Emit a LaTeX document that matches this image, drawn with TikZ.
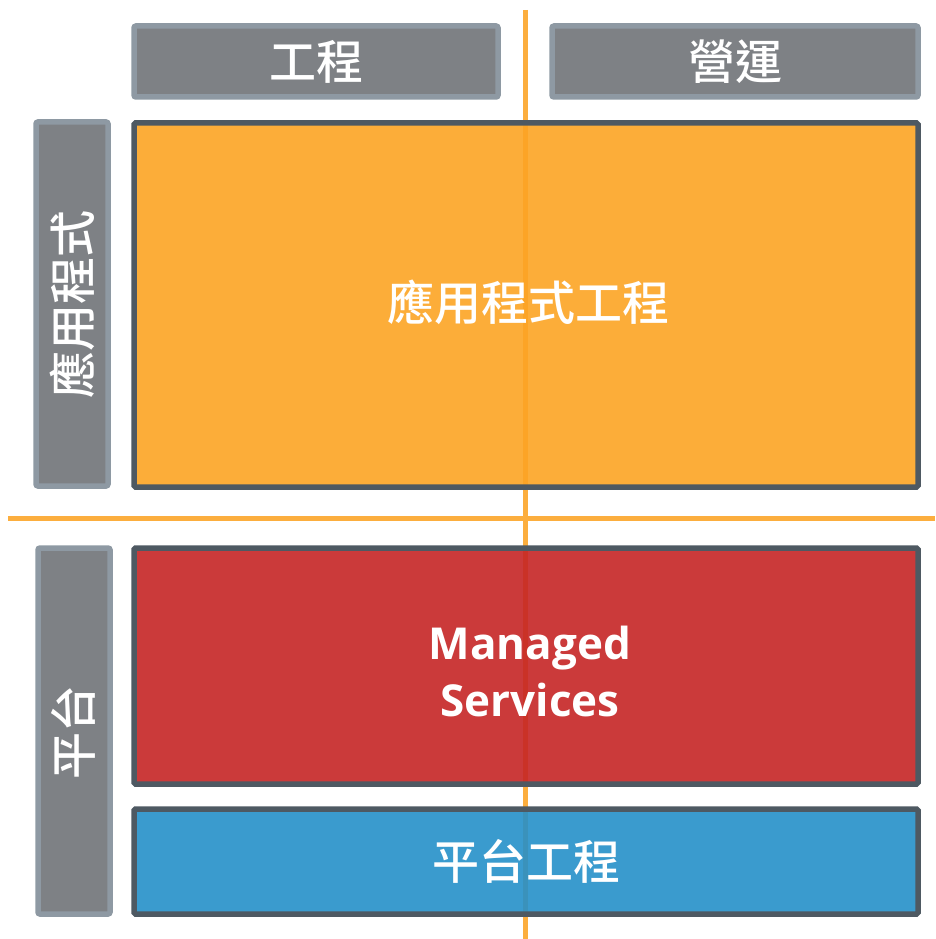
\documentclass[tikz,border=0pt]{standalone}
\usepackage{fontspec}
\newfontfamily\cjk{Noto Sans CJK TC Medium}
\newfontfamily\latinb{Open Sans}
\definecolor{hdrfill}{HTML}{7E8185}
\definecolor{hdrline}{HTML}{8E99A3}
\definecolor{boxline}{HTML}{4E5962}
\definecolor{orangefill}{HTML}{FCA424}
\definecolor{redfill}{HTML}{C52525}
\definecolor{bluefill}{HTML}{2590C9}
\definecolor{axisline}{HTML}{FCAE3E}
\tikzset{
  hdr/.style={draw=hdrline, fill=hdrfill, line width=5.5pt, rounded corners=2pt,
    anchor=north west, inner sep=0pt, outer sep=0pt},
  area/.style={draw=boxline, line width=5.5pt, fill opacity=0.9, rounded corners=1.5pt,
    anchor=north west, inner sep=0pt, outer sep=0pt},
  lbl/.style={text=white, inner sep=0pt, font=\cjk\fontsize{47}{52}\selectfont},
  axis/.style={draw=axisline, line width=5pt}
}
\begin{document}
\begin{tikzpicture}[x=1pt,y=-1pt]
\useasboundingbox (0,0) rectangle (935,939);
% axes (behind)
\coordinate (vtop) at (525.5,10);
\coordinate (vbot) at (525.5,939);
\coordinate (hl) at (8,518);
\coordinate (hr) at (935,518);
\draw[axis] (vtop) -- (vbot);
\draw[axis] (hl) -- (hr);
% headers
\node[hdr, minimum width=364pt, minimum height=71pt] (eng) at (134,26) {};
\node[lbl] (englbl) at (eng.center) {工程};
\node[hdr, minimum width=366pt, minimum height=71pt] (ops) at (552,26) {};
\node[lbl] (opslbl) at (ops.center) {營運};
\node[hdr, minimum width=72pt, minimum height=364pt] (appside) at (36,122) {};
\node[lbl, rotate=90] (applbl) at (appside.center) {應用程式};
\node[hdr, minimum width=72pt, minimum height=366pt] (platside) at (38,548) {};
\node[lbl, rotate=90] (platlbl) at (73,732) {平台};
% areas
\node[area, fill=orangefill, minimum width=784pt, minimum height=364pt] (appeng) at (134,123) {};
\node[lbl] (appenglbl) at (528,302) {應用程式工程};
\node[area, fill=redfill, minimum width=784pt, minimum height=236pt] (managed) at (134,548) {};
\node[lbl, align=center, font=\latinb\bfseries\fontsize{44}{57}\selectfont] (managedlbl) at (530,671) {Managed\\Services};
\node[area, fill=bluefill, minimum width=784pt, minimum height=105pt] (plateng) at (134,809) {};
\node[lbl] (platenglbl) at (plateng.center) {平台工程};
\end{tikzpicture}
\end{document}
